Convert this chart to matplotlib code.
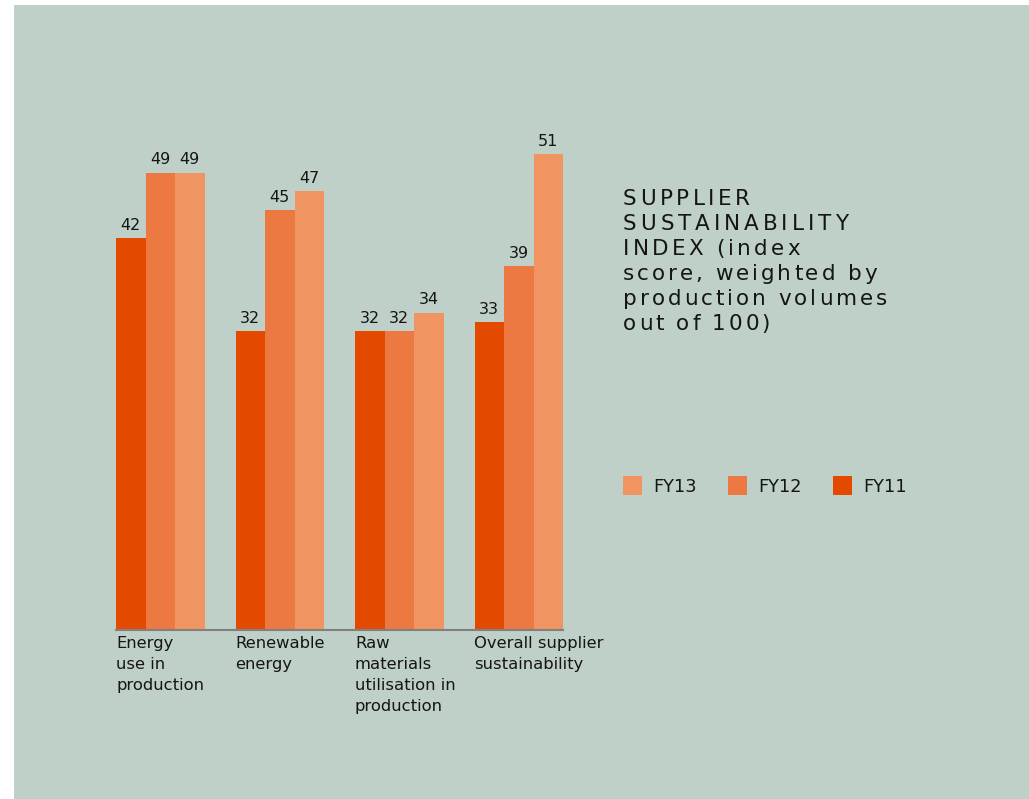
import matplotlib
matplotlib.use("Agg")
import matplotlib.pyplot as plt
from matplotlib.patches import Rectangle
from matplotlib.font_manager import FontProperties, findfont, get_font
import numpy as np

categories = ["Energy\nuse in\nproduction", "Renewable\nenergy",
              "Raw\nmaterials\nutilisation in\nproduction",
              "Overall supplier\nsustainability"]
series_names = ["FY11", "FY12", "FY13"]
fy11 = [42, 32, 32, 33]
fy12 = [49, 45, 32, 39]
fy13 = [49, 47, 34, 51]
colors = ["#E34A00", "#EC7842", "#F09462"]
title_lines = ["SUPPLIER", "SUSTAINABILITY", "INDEX (index",
               "score, weighted by", "production volumes", "out of 100)"]

W, H = 1029, 799
BG = "#BFD0C8"
TXT = "#151515"
FONT = "DejaVu Sans"

fig = plt.figure(figsize=(W / 100, H / 100), dpi=100)
fig.patch.set_facecolor("white")
fig.patches.append(Rectangle((14 / W, 0), 1 - 14 / W, 1 - 5 / H,
                             transform=fig.transFigure, facecolor=BG,
                             edgecolor="none", zorder=-10))

def px(x0, y0, x1, y1):
    return [x0 / W, 1 - y1 / H, (x1 - x0) / W, (y1 - y0) / H]

ax = fig.add_axes(px(116, 100, 563, 630))
ax.set_facecolor("none")
bw = 29.5 / 119.5
x = np.arange(len(categories))
for i, (vals, c) in enumerate(zip([fy11, fy12, fy13], colors)):
    pos = x + (i - 1) * bw
    ax.bar(pos, vals, width=bw, color=c, linewidth=0)
    for p, v in zip(pos, vals):
        ax.annotate(str(v), (p, v), xytext=(0, 4), textcoords="offset points",
                    ha="center", va="bottom", fontsize=11.5, color=TXT,
                    family=FONT)
ax.set_xlim(-1.5 * bw, 3 + 1.5 * bw)
ax.set_ylim(0, 530 / 9.33)
for s in ["top", "left", "right"]:
    ax.spines[s].set_visible(False)
ax.spines["bottom"].set_color("#808080")
ax.spines["bottom"].set_linewidth(1.5)
ax.set_yticks([])
ax.set_xticks([])
for xi, lab in zip(x, categories):
    ax.text(xi - 1.5 * bw, -0.012, lab, transform=ax.get_xaxis_transform(),
            ha="left", va="top", fontsize=11.8, color=TXT, family=FONT,
            linespacing=1.5)

# letter-spaced title, using glyph advance widths
tsize = 15.5
tprop = FontProperties(family=FONT, size=tsize)
ft = get_font(findfont(tprop))
ft.set_size(tsize, 100)

def advance(ch):
    g = ft.load_char(ord(ch))
    return g.linearHoriAdvance / 65536.0

line_right = [750, 848, 800, 877, 887, 770]
baselines = [205, 230, 255, 280, 305, 330]
x0 = 623.0
for line, yb, xr in zip(title_lines, baselines, line_right):
    adv = [advance(ch) for ch in line]
    natural = sum(adv)
    sp = (xr - x0 - natural) / (len(line) - 1)
    sp = max(1.5, min(sp, 5.0))
    xc = x0
    for ch, a in zip(line, adv):
        fig.text(xc / W, 1 - yb / H, ch, fontproperties=tprop, color=TXT,
                 ha="left", va="baseline")
        xc += a + sp

# legend
leg_items = [("FY13", colors[2], 623), ("FY12", colors[1], 728), ("FY11", colors[0], 833)]
for name, c, lx in leg_items:
    fig.patches.append(Rectangle((lx / W, 1 - 495 / H), 19 / W, 19 / H,
                                 transform=fig.transFigure, facecolor=c,
                                 edgecolor="none"))
    fig.text((lx + 30) / W, 1 - 492 / H, name, fontsize=12.8, color=TXT,
             family=FONT, ha="left", va="baseline")

fig.savefig("out.png", dpi=100, facecolor=fig.get_facecolor())
